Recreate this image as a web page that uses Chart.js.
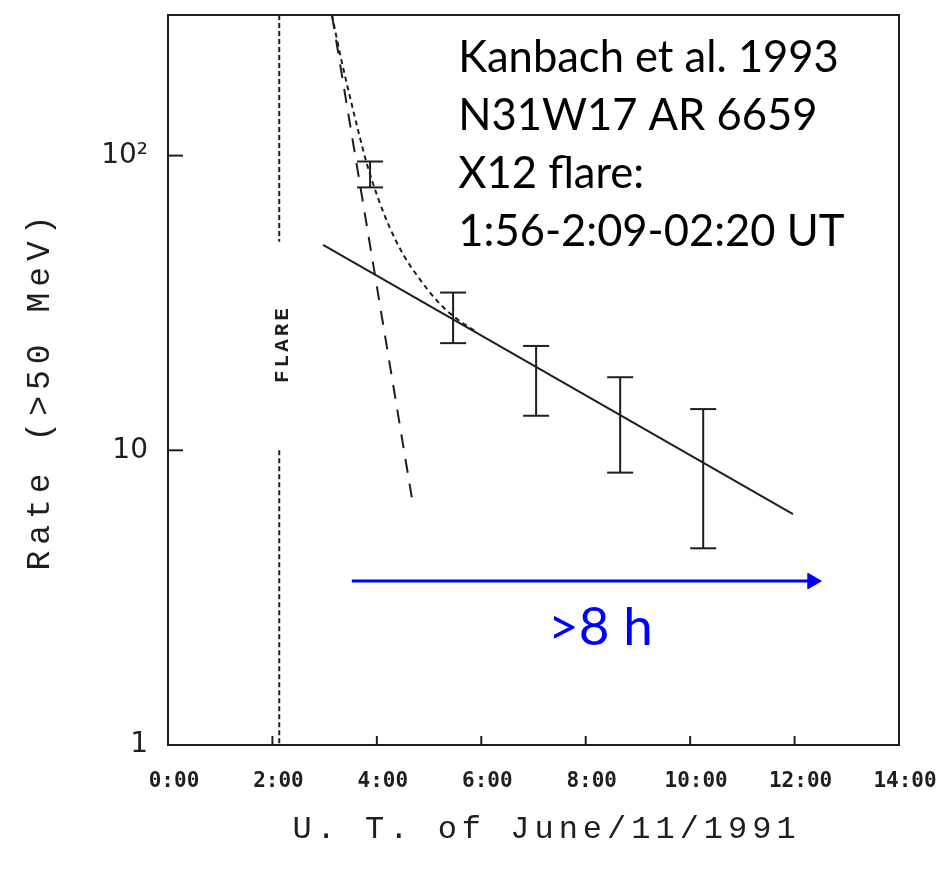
<!DOCTYPE html>
<html>
<head>
<meta charset="utf-8">
<script src="https://cdn.jsdelivr.net/npm/chart.js@4.4.1/dist/chart.umd.min.js"></script>
<style>
  body { margin: 0; background: #fff; }
  #wrap { width: 948px; height: 876px; }
</style>
</head>
<body>
<div id="wrap"><canvas id="rateChart" width="948" height="876"></canvas></div>
<script>
// axes
const hourTicks = [0,1,2,3,4,5,6,7,8,9,10,11,12,13,14];
const hourLabels = ['0:00','2:00','4:00','6:00','8:00','10:00','12:00','14:00'];
const rateTicks = [1,2,3,4,5,6,7,8,9,10,20,30,40,50,60,70,80,90,100,200,300];
const rateLabelValues = [1, 10, 100];
const rateLabels = ['1', '10', '10²'];

// flare marker (hour UT) and the gap left for its label
const flareTime = 2.13;
const flareGap = [51, 10];

// measured rates with error bars
const barTimes = [3.87, 5.46, 7.05, 8.66, 10.25];
const barLow  = [78, 23.1, 13.1, 8.4, 4.65];
const barHigh = [95.5, 34.3, 22.6, 17.7, 13.8];

// fits
const powerTimes = [2.97, 11.97];
const powerRates = [49.8, 6.07];
const fastTimes = [3.14, 4.67];
const fastRates = [300, 6.9];
const sumTimes = [3.14, 3.31, 3.49, 3.66, 3.83, 4.02, 4.25, 4.52, 4.83, 5.15, 5.50, 5.88];
const sumRates = [300, 215, 157, 118, 91, 72, 56.8, 45.7, 37.9, 32.2, 28.2, 25.4];

// duration arrow
const arrowTimes = [3.52, 12.34];
const arrowRate = 3.6;

const noteLines = ['Kanbach et al. 1993', 'N31W17 AR 6659', 'X12 flare:', '1:56-2:09-02:20 UT'];

const ink = '#1e1e1e';
const blue = '#0000ff';

const pts = (xs, ys) => xs.map((x, i) => ({x: x, y: ys[i]}));

let errPoints = [];
barTimes.forEach((t, i) => {
    errPoints.push({x: t, y: barLow[i]}, {x: t, y: barHigh[i]}, {x: t, y: null});
});

const flarePoints = [
    {x: flareTime, y: 300}, {x: flareTime, y: flareGap[0]},
    {x: flareTime, y: null},
    {x: flareTime, y: flareGap[1]}, {x: flareTime, y: 1}
];

// frame, inward ticks, titles and notes
const decor = {
    id: 'decor',
    afterDraw(chart) {
        const {ctx, chartArea: a, scales: {x, y}} = chart;
        ctx.save();
        ctx.strokeStyle = ink;
        ctx.lineWidth = 2;
        ctx.strokeRect(a.left, a.top, a.right - a.left, a.bottom - a.top);

        x.ticks.forEach(t => {
            const px = x.getPixelForValue(t.value);
            ctx.beginPath();
            ctx.moveTo(px, a.bottom);
            ctx.lineTo(px, a.bottom - 9);
            ctx.stroke();
        });
        y.ticks.forEach(t => {
            const py = y.getPixelForValue(t.value);
            const len = rateLabelValues.includes(t.value) ? 15 : 9;
            ctx.beginPath();
            ctx.moveTo(a.left, py);
            ctx.lineTo(a.left + len, py);
            ctx.stroke();
        });

        ctx.fillStyle = ink;
        // FLARE label inside the gap
        ctx.save();
        ctx.translate(x.getPixelForValue(flareTime) + 3, y.getPixelForValue(Math.sqrt(flareGap[0] * flareGap[1])) - 2);
        ctx.rotate(-Math.PI / 2);
        ctx.font = 'bold 21px "Liberation Mono"';
        ctx.letterSpacing = '3px';
        ctx.textAlign = 'center';
        ctx.textBaseline = 'middle';
        ctx.fillText('FLARE', 0, 0);
        ctx.restore();

        // axis titles
        ctx.save();
        ctx.font = '32px "Liberation Mono"';
        ctx.letterSpacing = '5px';
        ctx.textAlign = 'center';
        ctx.textBaseline = 'middle';
        ctx.fillText('U. T. of June/11/1991', x.getPixelForValue(7.25), a.bottom + 85);
        ctx.translate(40, (a.top + a.bottom) / 2 + 10);
        ctx.rotate(-Math.PI / 2);
        ctx.font = '33px "Liberation Mono"';
        ctx.letterSpacing = '6px';
        ctx.fillText('Rate (>50 MeV)', 0, 0);
        ctx.restore();

        // notes
        ctx.save();
        ctx.fillStyle = '#000';
        ctx.font = '43.5px Lato';
        ctx.textAlign = 'left';
        ctx.textBaseline = 'middle';
        const nx = x.getPixelForValue(5.56);
        const ny = y.getPixelForValue(215);
        noteLines.forEach((s, i) => ctx.fillText(s, nx, ny + i * 58));

        ctx.fillStyle = blue;
        ctx.font = '53px Lato';
        ctx.fillText('>8 h', x.getPixelForValue(7.28), y.getPixelForValue(2.5));
        ctx.restore();

        ctx.restore();
    }
};

const ctx = document.getElementById('rateChart');

const chart = new Chart(ctx, {
    type: 'scatter',
    data: {
        datasets: [
            {
                label: 'flare',
                data: flarePoints,
                showLine: true,
                borderColor: ink,
                borderWidth: 2,
                borderDash: [5, 3],
                pointRadius: 0
            },
            {
                label: 'fast component',
                data: pts(fastTimes, fastRates),
                showLine: true,
                borderColor: ink,
                borderWidth: 2,
                borderDash: [14, 11],
                pointRadius: 0
            },
            {
                label: 'sum',
                data: pts(sumTimes, sumRates),
                showLine: true,
                borderColor: ink,
                borderWidth: 2,
                borderDash: [5, 4],
                cubicInterpolationMode: 'monotone',
                pointRadius: 0
            },
            {
                label: 'slow component',
                data: pts(powerTimes, powerRates),
                showLine: true,
                borderColor: ink,
                borderWidth: 2,
                pointRadius: 0
            },
            {
                label: 'rate',
                data: errPoints,
                showLine: true,
                borderColor: ink,
                borderWidth: 2,
                pointStyle: 'line',
                pointRadius: 13,
                pointBorderWidth: 2,
                pointBorderColor: ink
            },
            {
                label: 'duration',
                data: pts(arrowTimes, [arrowRate, arrowRate]),
                showLine: true,
                borderColor: blue,
                borderWidth: 3,
                pointStyle: 'triangle',
                pointRotation: 90,
                pointRadius: [0, 9],
                pointBackgroundColor: blue,
                pointBorderColor: blue,
                pointBorderWidth: 1
            }
        ]
    },
    options: {
        responsive: false,
        animation: false,
        layout: { padding: { top: 9, right: 49, left: 0, bottom: 0 } },
        plugins: { legend: { display: false }, tooltip: { enabled: false } },
        scales: {
            x: {
                type: 'linear',
                min: 0,
                max: 14,
                afterBuildTicks: s => { s.ticks = hourTicks.map(v => ({value: v})); },
                afterFit: s => { s.height = 131; s.paddingLeft = 0; s.paddingRight = 0; },
                grid: { display: false, drawTicks: false },
                border: { display: false },
                ticks: {
                    autoSkip: false,
                    maxRotation: 0,
                    padding: 24,
                    labelOffset: 6,
                    color: ink,
                    font: { family: '"DejaVu Sans Mono"', size: 21, weight: 'bold' },
                    callback: v => (v % 2 === 0 ? hourLabels[v / 2] : null)
                }
            },
            y: {
                type: 'logarithmic',
                min: 1,
                max: 300,
                afterBuildTicks: s => { s.ticks = rateTicks.map(v => ({value: v})); },
                afterFit: s => { s.width = 168; s.paddingTop = 0; s.paddingBottom = 0; },
                grid: { display: false, drawTicks: false },
                border: { display: false },
                ticks: {
                    autoSkip: false,
                    padding: 20,
                    color: ink,
                    font: { family: '"DejaVu Sans"', size: 28 },
                    callback: v => {
                        const i = rateLabelValues.indexOf(v);
                        return i >= 0 ? rateLabels[i] : null;
                    }
                }
            }
        }
    },
    plugins: [decor]
});
</script>
</body>
</html>
